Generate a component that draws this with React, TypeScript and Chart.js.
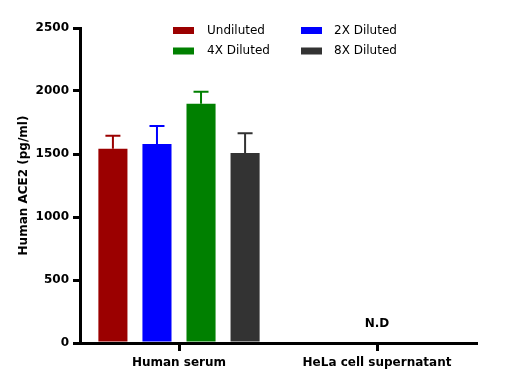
import React, { useEffect, useRef } from 'react';
import { Chart, registerables } from 'chart.js';

Chart.register(...registerables);

const categories = ['Human serum', 'HeLa cell supernatant'];
const seriesLabels = ['Undiluted', '2X Diluted', '4X Diluted', '8X Diluted'];
const seriesColors = ['#9b0000', '#0000ff', '#008000', '#333333'];

const undilutedValues = [1541, null];
const diluted2xValues = [1580, null];
const diluted4xValues = [1898, null];
const diluted8xValues = [1507, null];

const undilutedErrors = [103, null];
const diluted2xErrors = [143, null];
const diluted4xErrors = [97, null];
const diluted8xErrors = [158, null];

const categoryNotes = ['', 'N.D'];

const yMin = 0;
const yMax = 2500;
const yStep = 500;
const yTitle = 'Human ACE2 (pg/ml)';

const FONT = "'DejaVu Sans', sans-serif";

const seriesValues = [undilutedValues, diluted2xValues, diluted4xValues, diluted8xValues];
const seriesErrors = [undilutedErrors, diluted2xErrors, diluted4xErrors, diluted8xErrors];

const errorBarPlugin = {
  id: 'errorBars',
  afterDatasetsDraw(chart: any) {
    const ctx = chart.ctx;
    const yScale = chart.scales.y;
    chart.data.datasets.forEach((ds: any, i: number) => {
      const meta = chart.getDatasetMeta(i);
      meta.data.forEach((bar: any, j: number) => {
        const v = ds.data[j];
        const e = seriesErrors[i][j];
        if (v == null || e == null) return;
        const yTop = yScale.getPixelForValue(v + e);
        ctx.save();
        ctx.strokeStyle = ds.backgroundColor;
        ctx.lineWidth = 2;
        ctx.beginPath();
        ctx.moveTo(bar.x, bar.y);
        ctx.lineTo(bar.x, yTop);
        ctx.moveTo(bar.x - 7.5, yTop);
        ctx.lineTo(bar.x + 7.5, yTop);
        ctx.stroke();
        ctx.restore();
      });
    });
  },
};

const notesPlugin = {
  id: 'notes',
  afterDatasetsDraw(chart: any) {
    const ctx = chart.ctx;
    const xScale = chart.scales.x;
    const yScale = chart.scales.y;
    ctx.save();
    ctx.fillStyle = '#000';
    ctx.font = `bold 12px ${FONT}`;
    ctx.textAlign = 'center';
    ctx.textBaseline = 'middle';
    categoryNotes.forEach((note, i) => {
      if (!note) return;
      ctx.fillText(note, xScale.getPixelForValue(i), yScale.getPixelForValue(0) - 19);
    });
    ctx.restore();
  },
};

const gridLegendPlugin = {
  id: 'gridLegend',
  afterDraw(chart: any) {
    const ctx = chart.ctx;
    const colX = [173, 301];
    const textX = [207, 334];
    const rowY = [30.5, 51];
    ctx.save();
    ctx.font = `12px ${FONT}`;
    ctx.textAlign = 'left';
    ctx.textBaseline = 'middle';
    chart.data.datasets.forEach((ds: any, i: number) => {
      const c = i % 2;
      const r = Math.floor(i / 2);
      ctx.fillStyle = ds.backgroundColor;
      ctx.fillRect(colX[c], rowY[r] - 3.5, 21, 7);
      ctx.fillStyle = '#000';
      ctx.fillText(ds.label, textX[c], rowY[r]);
    });
    ctx.restore();
  },
};

export default function App() {
  const ref = useRef<HTMLCanvasElement | null>(null);

  useEffect(() => {
    if (!ref.current) return;
    const chart = new Chart(ref.current, {
      type: 'bar',
      data: {
        labels: categories,
        datasets: seriesLabels.map((label, i) => ({
          label,
          data: seriesValues[i],
          backgroundColor: seriesColors[i],
          borderWidth: 0,
          barPercentage: 0.66,
          categoryPercentage: 0.89,
        })),
      },
      options: {
        responsive: false,
        animation: false,
        layout: { padding: { top: 28, right: 44, bottom: 0, left: 0 } },
        plugins: {
          legend: { display: false },
          tooltip: { enabled: false },
        },
        scales: {
          x: {
            offset: true,
            ticks: { color: '#000', font: { family: FONT, size: 12, weight: 'bold' }, padding: 5 },
            grid: { drawOnChartArea: false, offset: false, tickLength: 8, lineWidth: 3, color: '#000' },
            border: { display: true, width: 3, color: '#000' },
            afterFit: (s: any) => { s.height = 46; },
          },
          y: {
            min: yMin,
            max: yMax,
            ticks: {
              stepSize: yStep,
              color: '#000',
              font: { family: FONT, size: 12, weight: 'bold' },
              padding: 4,
              callback: (v: any) => String(v),
            },
            grid: { drawOnChartArea: false, tickLength: 7, lineWidth: 3, color: '#000' },
            border: { display: true, width: 3, color: '#000' },
            title: {
              display: true,
              text: yTitle,
              color: '#000',
              font: { family: FONT, size: 12, weight: 'bold' },
              padding: { top: 17, bottom: 0 },
            },
            afterFit: (s: any) => { s.width = 80; },
          },
        },
      } as any,
      plugins: [errorBarPlugin, notesPlugin, gridLegendPlugin],
    });
    return () => chart.destroy();
  }, []);

  return (
    <div style={{ position: 'absolute', left: 0, top: 0, width: 520, height: 389, background: '#fff' }}>
      <canvas ref={ref} width={520} height={389} style={{ display: 'block' }} />
    </div>
  );
}
